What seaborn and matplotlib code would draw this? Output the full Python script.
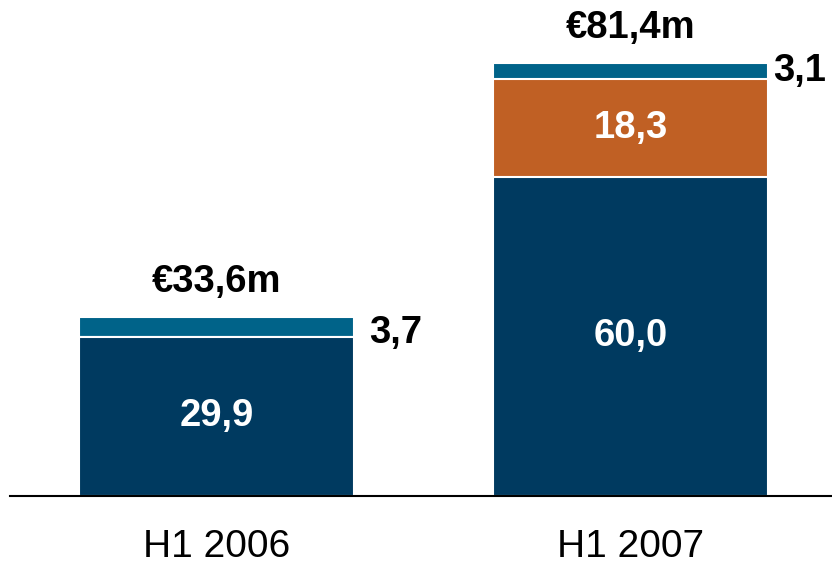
import numpy as np
import pandas as pd
import matplotlib.pyplot as plt
import seaborn as sns

# Data
periods = ["H1 2006", "H1 2007"]
core = [29.9, 60.0]
acquired = [0.0, 18.3]
other = [3.7, 3.1]
totals = ["€33,6m", "€81,4m"]
core_labels = ["29,9", "60,0"]
acquired_labels = ["", "18,3"]
other_labels = ["3,7", "3,1"]

navy = "#003A60"
orange = "#C06024"
teal = "#006389"

sns.set_style("white")
plt.rcParams["font.family"] = ["Liberation Sans", "DejaVu Sans"]
plt.rcParams["text.color"] = "black"
plt.rcParams["xtick.color"] = "black"

df = pd.DataFrame({"period": periods, "core": core,
                   "acquired": acquired, "other": other})
df["lvl2"] = df["core"] + df["acquired"]
df["lvl3"] = df["lvl2"] + df["other"]

fig = plt.figure(figsize=(8.32, 5.69), dpi=100)
ax = fig.add_axes([10 / 832, 73 / 569, 822 / 832, 496 / 569])

bar_w = 275 / 414
# stacked by overdrawing cumulative heights
for col, c in [("lvl3", teal), ("lvl2", orange), ("core", navy)]:
    sns.barplot(data=df, x="period", y=col, color=c, width=bar_w,
                edgecolor="white", linewidth=1.5, saturation=1, ax=ax)

ax.set_xlim(-0.5, 1.486)
ax.set_ylim(0, 93.2)

fs = 27.5
for i in range(len(periods)):
    ax.text(i, core[i] / 2, core_labels[i], color="white", fontsize=fs,
            fontweight="bold", ha="center", va="center")
    if acquired[i] > 0:
        ax.text(i, core[i] + acquired[i] / 2, acquired_labels[i], color="white",
                fontsize=fs, fontweight="bold", ha="center", va="center")
    ax.annotate(totals[i], (i, df["lvl3"][i]), xytext=(0, 25),
                textcoords="offset points", ha="center", va="center",
                fontsize=fs, fontweight="bold", color="black")

side_pad = [0.035, 0.012]
side_y = [-1.2, 0.0]
for i in range(len(periods)):
    ax.text(i + bar_w / 2 + side_pad[i], df["lvl2"][i] + other[i] / 2 + side_y[i],
            other_labels[i], fontsize=fs, fontweight="bold", ha="left",
            va="center", color="black")

sns.despine(ax=ax, left=True)
ax.spines["bottom"].set_linewidth(1.5)
ax.spines["bottom"].set_color("black")
ax.set_yticks([])
ax.set_xlabel("")
ax.set_ylabel("")
ax.tick_params(axis="x", length=0, pad=24, labelsize=28, labelcolor="black")

fig.savefig("out.png", dpi=100)
